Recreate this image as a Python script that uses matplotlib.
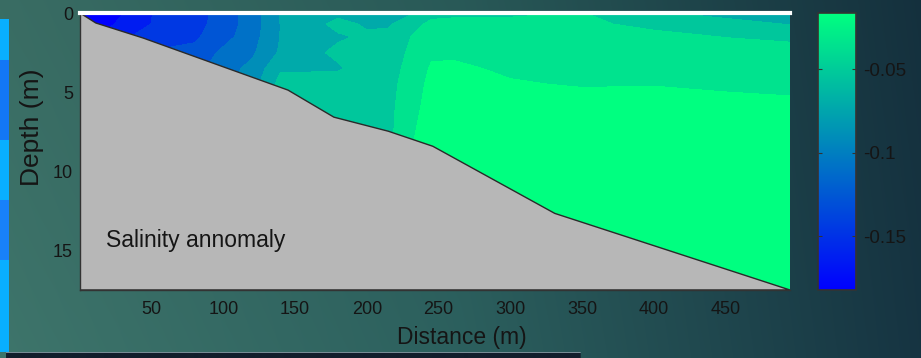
import numpy as np
import matplotlib
matplotlib.use("Agg")
import matplotlib.pyplot as plt
from matplotlib.colors import Normalize
from matplotlib import cm

plt.rcParams['font.family'] = ['Liberation Sans', 'DejaVu Sans']

# ---- data ----
distance = [0, 20, 40, 60, 80, 100, 120, 140, 160, 180, 200, 215, 230, 245, 260, 300, 350, 400, 450, 495]
depth = [0, 0.7, 1.5, 2.5, 3.5, 4.5, 6, 8, 11, 17.5]
# salinity anomaly columns (one list per distance node, top to bottom in depth)
sal_columns = [
    [-0.180, -0.178, -0.170, -0.165, -0.160, -0.160, -0.160, -0.160, -0.160, -0.160],
    [-0.175, -0.168, -0.160, -0.155, -0.150, -0.150, -0.150, -0.150, -0.150, -0.150],
    [-0.157, -0.155, -0.146, -0.142, -0.140, -0.140, -0.140, -0.140, -0.140, -0.140],
    [-0.142, -0.142, -0.138, -0.130, -0.128, -0.128, -0.128, -0.128, -0.128, -0.128],
    [-0.140, -0.138, -0.135, -0.128, -0.122, -0.120, -0.120, -0.120, -0.120, -0.120],
    [-0.125, -0.125, -0.122, -0.112, -0.106, -0.104, -0.104, -0.104, -0.104, -0.104],
    [-0.108, -0.108, -0.106, -0.102, -0.095, -0.090, -0.090, -0.090, -0.090, -0.090],
    [-0.081, -0.082, -0.082, -0.080, -0.068, -0.060, -0.058, -0.058, -0.058, -0.058],
    [-0.072, -0.072, -0.072, -0.070, -0.068, -0.060, -0.058, -0.058, -0.058, -0.058],
    [-0.070, -0.062, -0.068, -0.063, -0.068, -0.058, -0.056, -0.056, -0.056, -0.056],
    [-0.070, -0.068, -0.064, -0.060, -0.058, -0.056, -0.055, -0.055, -0.055, -0.055],
    [-0.070, -0.068, -0.062, -0.056, -0.055, -0.054, -0.054, -0.054, -0.054, -0.054],
    [-0.068, -0.058, -0.050, -0.048, -0.046, -0.044, -0.040, -0.035, -0.030, -0.030],
    [-0.056, -0.045, -0.040, -0.036, -0.031, -0.028, -0.026, -0.025, -0.025, -0.025],
    [-0.054, -0.044, -0.040, -0.035, -0.031, -0.027, -0.025, -0.025, -0.025, -0.025],
    [-0.053, -0.044, -0.041, -0.038, -0.035, -0.032, -0.026, -0.025, -0.025, -0.025],
    [-0.049, -0.047, -0.042, -0.039, -0.036, -0.034, -0.027, -0.025, -0.025, -0.025],
    [-0.064, -0.053, -0.046, -0.041, -0.038, -0.0335, -0.028, -0.025, -0.025, -0.025],
    [-0.072, -0.060, -0.050, -0.043, -0.039, -0.035, -0.029, -0.025, -0.025, -0.025],
    [-0.075, -0.067, -0.052, -0.045, -0.040, -0.036, -0.030, -0.027, -0.025, -0.025],
]
# bathymetry (bottom profile)
bath_x = [0, 11, 44, 145, 177, 215, 246, 331, 495]
bath_d = [0, 0.63, 1.58, 4.87, 6.58, 7.47, 8.42, 12.66, 17.5]

xticks = [50, 100, 150, 200, 250, 300, 350, 400, 450]
yticks = [0, 5, 10, 15]
cbar_ticks = [-0.15, -0.1, -0.05]
cbar_ticklabels = ['-0.15', '-0.1', '-0.05']
vmin, vmax = -0.182, -0.0165

# ---- figure ----
W, H = 921, 358
fig = plt.figure(figsize=(W / 100, H / 100), dpi=100)

# slide background gradient
bg = fig.add_axes([0, 0, 1, 1], zorder=-10)
bg.set_axis_off()
xs = np.linspace(0, 1, W)[None, :, None]
ys = np.linspace(0, 1, H)[:, None, None]
c_left = np.array([62, 117, 107]) / 255
c_mid = np.array([44, 96, 94]) / 255
c_right = np.array([22, 52, 66]) / 255
img = np.where(xs < 0.5, c_left + (c_mid - c_left) * (xs / 0.5),
               c_mid + (c_right - c_mid) * ((xs - 0.5) / 0.5))
img = img * (0.93 + 0.07 * ys)
img = np.clip(img, 0, 1)
img = np.broadcast_to(img, (H, W, 3)).copy()
# left strip (edge of another picture)
img[19:352, 0:9] = np.array([10, 175, 255]) / 255
img[60:140, 0:9] = np.array([20, 120, 245]) / 255
img[200:260, 0:9] = np.array([25, 130, 250]) / 255
# bottom strip
img[352:358, 6:580] = np.array([18, 30, 44]) / 255
img[352, 6:580] = np.array([120, 140, 150]) / 255
bg.imshow(img, aspect='auto', extent=[0, 1, 0, 1], origin='upper')
bg.set_xlim(0, 1)
bg.set_ylim(0, 1)

ax = fig.add_axes([80 / W, 1 - 290 / H, 710 / W, 277 / H])
X, D = np.meshgrid(distance, depth)
Z = np.array(sal_columns).T
nb = 10
levels = np.linspace(vmin, vmax, nb + 1)
cmap = plt.get_cmap('winter')
band_colors = [cmap(i / (nb - 1)) for i in range(nb)]
ax.contourf(X, D, Z, levels=levels, colors=band_colors, zorder=1)

poly_x = list(bath_x) + [0]
poly_d = list(bath_d) + [bath_d[-1]]
ax.fill(poly_x, poly_d, facecolor='#b7b7b7', edgecolor='#2a2a2a', linewidth=1.0, zorder=2)

ax.set_xlim(0, 495)
ax.set_ylim(17.5, 0)
ax.set_xticks(xticks)
ax.set_yticks(yticks)
ax.tick_params(length=0, labelsize=13, labelcolor='#151515')
ax.tick_params(axis='x', pad=8)
ax.tick_params(axis='y', pad=5)
for s in ['left', 'bottom']:
    ax.spines[s].set_color('#333333')
    ax.spines[s].set_linewidth(1.0)
ax.spines['right'].set_visible(False)
ax.spines['top'].set_color('white')
ax.spines['top'].set_linewidth(3)

ax.set_xlabel('Distance (m)', fontsize=16.5, color='#151515')
ax.xaxis.set_label_coords((462 - 80) / 710, -(326 - 290) / 277)
ax.set_ylabel('Depth (m)', fontsize=19, color='#151515')
ax.yaxis.set_label_coords(-(80 - 44) / 710, (290 - 127) / 277)

ax.text(18, 14.4, 'Salinity annomaly', fontsize=16.5, color='#151515', va='center', ha='left', zorder=3)

# colorbar
cax = fig.add_axes([818 / W, 1 - 290 / H, 38 / W, 277 / H])
sm = cm.ScalarMappable(norm=Normalize(vmin=vmin, vmax=vmax), cmap=cmap)
cb = fig.colorbar(sm, cax=cax)
cb.set_ticks(cbar_ticks)
cb.set_ticklabels(cbar_ticklabels)
cb.outline.set_edgecolor('#333333')
cb.outline.set_linewidth(1.2)
cax.tick_params(direction='in', left=True, right=True, length=3, color='#333333',
                labelsize=13.5, labelcolor='#151515', pad=5)

fig.savefig('out.png', dpi=100)
